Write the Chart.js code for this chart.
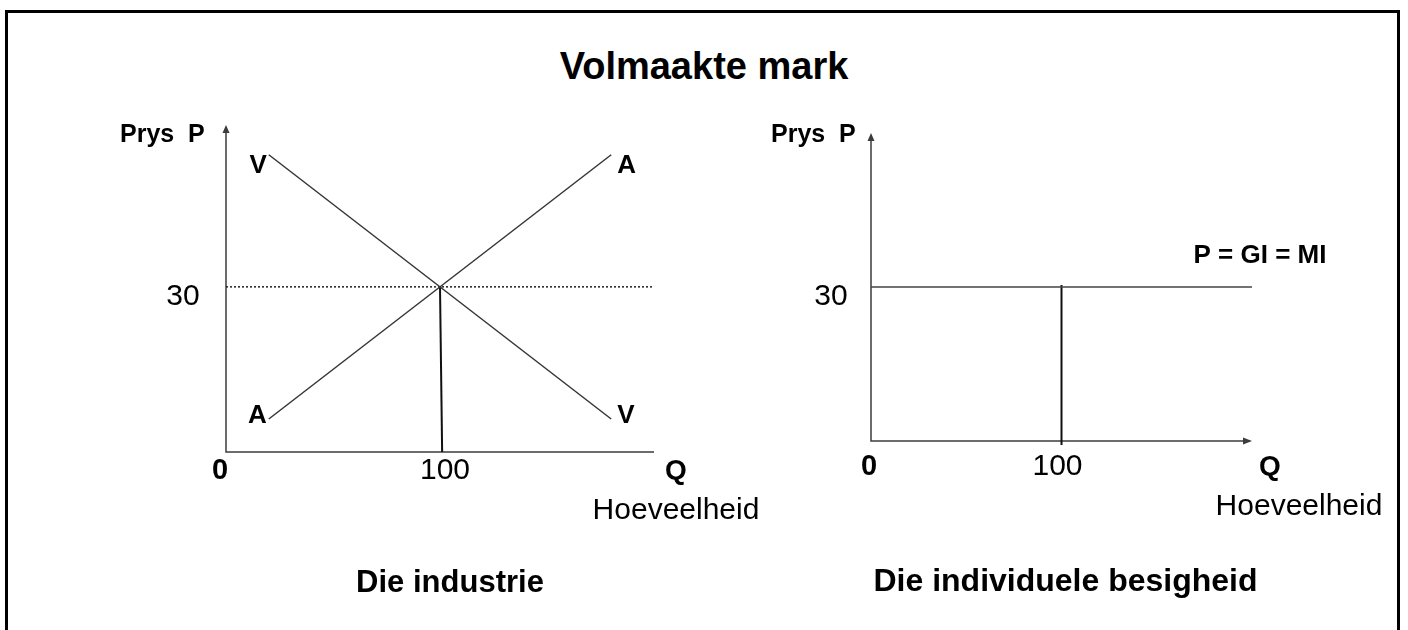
<!DOCTYPE html>
<html>
<head>
<meta charset="utf-8">
<title>Volmaakte mark</title>
<script src="https://cdn.jsdelivr.net/npm/chart.js@4.4.1/dist/chart.umd.min.js"></script>
<style>
  html, body { margin: 0; padding: 0; background: #fff; }
  #page { position: relative; width: 1408px; height: 630px; overflow: hidden; background: #fff;
          font-family: "Liberation Sans", Arial, sans-serif; }
  #frame { position: absolute; left: 5px; top: 10px; width: 1395px; height: 700px;
           border: 3px solid #000; box-sizing: border-box; }
  #title { position: absolute; left: 0; width: 1408px; top: 47px; text-align: center;
           font-size: 38px; font-weight: bold; line-height: 1; color: #000; }
  .box { position: absolute; top: 0; height: 630px; }
</style>
</head>
<body>
<div id="page">
  <div id="frame"></div>
  <div id="title">Volmaakte mark</div>
  <div class="box" style="left:0;width:800px"><canvas id="industry" width="800" height="630"></canvas></div>
  <div class="box" style="left:704px;width:704px"><canvas id="firm" width="704" height="630"></canvas></div>
</div>

<script>
// Die industrie: aanbod (A), vraag (V), ewewigsprys en -hoeveelheid
var supplyQ = [20, 180];
var supplyP = [6, 54];
var demandQ = [20, 180];
var demandP = [54, 6];
var priceLineQ = [0, 200];
var priceLineP = [30, 30];
var eqLineQ = [100, 101];
var eqLineP = [30, 0];

// Die individuele besigheid: P = GI = MI
var firmPriceQ = [0, 200];
var firmPriceP = [30, 30];
var firmLineQ = [100, 100];
var firmLineP = [30.4, -0.8];

// tick labels
var qTicks = [0, 100];
var pTicks = [30];

function pts(xs, ys) {
    return xs.map(function (x, i) { return { x: x, y: ys[i] }; });
}

function line(data, color, width, extra) {
    return Object.assign({
        data: data,
        showLine: true,
        borderColor: color,
        borderWidth: width,
        pointRadius: 0,
        fill: false,
        clip: false
    }, extra || {});
}

function arrowHead(ctx, x, y, dir) {
    ctx.beginPath();
    if (dir === 'up') {
        ctx.moveTo(x, y);
        ctx.lineTo(x - 3.5, y + 8);
        ctx.lineTo(x + 3.5, y + 8);
    } else {
        ctx.moveTo(x, y);
        ctx.lineTo(x - 9, y - 3.5);
        ctx.lineTo(x - 9, y + 3.5);
    }
    ctx.closePath();
    ctx.fill();
}

function put(ctx, str, font, align, x, y) {
    ctx.font = font;
    ctx.textAlign = align;
    ctx.textBaseline = 'alphabetic';
    ctx.fillText(str, x, y);
}

// draws the axes and every text of one diagram
var diagram = {
    id: 'diagram',
    beforeDatasetsDraw: function (chart, args, o) {
        var ctx = chart.ctx, a = chart.chartArea;
        ctx.save();
        ctx.strokeStyle = '#3c3c3c';
        ctx.fillStyle = '#3c3c3c';
        ctx.lineWidth = 1.5;
        ctx.beginPath();
        ctx.moveTo(a.left, a.top + 2);
        ctx.lineTo(a.left, a.bottom);
        ctx.lineTo(a.right - (o.xArrow ? 2 : 0), a.bottom);
        ctx.stroke();
        arrowHead(ctx, a.left, a.top, 'up');
        if (o.xArrow) arrowHead(ctx, a.right, a.bottom, 'right');
        ctx.restore();
    },
    afterDatasetsDraw: function (chart, args, o) {
        var ctx = chart.ctx, a = chart.chartArea;
        var x = chart.scales.x, y = chart.scales.y;
        var bold = function (s) { return 'bold ' + s + 'px "Liberation Sans", Arial, sans-serif'; };
        var reg = function (s) { return s + 'px "Liberation Sans", Arial, sans-serif'; };
        ctx.save();
        ctx.fillStyle = '#000';

        // tick labels along the axes
        qTicks.forEach(function (v) {
            if (v === 0) put(ctx, '0', bold(29), 'center', x.getPixelForValue(0) + o.zeroDx, a.bottom + o.tickDy);
            else put(ctx, String(v), reg(30), 'center', x.getPixelForValue(v) + o.qDx, a.bottom + o.tickDy);
        });
        pTicks.forEach(function (v) {
            put(ctx, String(v), reg(30), 'center', a.left + o.pDx, y.getPixelForValue(v) + 18);
        });

        put(ctx, 'Prys  P', bold(25), 'left', a.left + o.prysDx, a.top + o.prysDy);
        put(ctx, 'Q', bold(28), 'center', a.right + o.qLblDx, a.bottom + o.tickDy);
        put(ctx, 'Hoeveelheid', reg(30), 'center', a.right + o.hoevDx, a.bottom + o.tickDy + 40);
        put(ctx, o.caption, bold(o.captionSize), 'center', x.getPixelForValue(100) + o.captionDx, a.bottom + o.captionDy);

        // labels at the ends of the curves
        (o.endLabels || []).forEach(function (l) {
            var p = chart.getDatasetMeta(l.ds).data[l.pt];
            put(ctx, l.text, bold(26), l.align, p.x + l.dx, p.y + l.dy);
        });
        (o.lineLabels || []).forEach(function (l) {
            put(ctx, l.text, bold(26), 'center', a.right + l.dx, y.getPixelForValue(l.at) + l.dy);
        });
        ctx.restore();
    }
};

function baseOptions(padding, yMax, plug) {
    return {
        responsive: false,
        animation: false,
        devicePixelRatio: 1,
        layout: { padding: padding },
        plugins: { legend: { display: false }, tooltip: { enabled: false }, diagram: plug },
        scales: {
            x: { type: 'linear', min: 0, max: 200, display: false },
            y: { type: 'linear', min: 0, max: yMax, display: false }
        }
    };
}

new Chart(document.getElementById('industry'), {
    type: 'scatter',
    data: {
        datasets: [
            line(pts(supplyQ, supplyP), '#353535', 1.5),
            line(pts(demandQ, demandP), '#353535', 1.5),
            line(pts(priceLineQ, priceLineP), '#222', 1.5, { borderDash: [2, 2] }),
            line(pts(eqLineQ, eqLineP), '#111', 2)
        ]
    },
    options: baseOptions({ left: 226, right: 146, top: 125, bottom: 178 }, 59.4, {
        xArrow: false,
        zeroDx: -6, qDx: 5, tickDy: 27, pDx: -43,
        prysDx: -106, prysDy: 17, qLblDx: 22, hoevDx: 22,
        caption: 'Die industrie', captionSize: 31, captionDx: 10, captionDy: 140,
        endLabels: [
            { ds: 0, pt: 0, text: 'A', align: 'right', dx: -2, dy: 4 },
            { ds: 0, pt: 1, text: 'A', align: 'left', dx: 6, dy: 18 },
            { ds: 1, pt: 0, text: 'V', align: 'right', dx: -2, dy: 18 },
            { ds: 1, pt: 1, text: 'V', align: 'left', dx: 6, dy: 4 }
        ]
    }),
    plugins: [diagram]
});

new Chart(document.getElementById('firm'), {
    type: 'scatter',
    data: {
        datasets: [
            line(pts(firmPriceQ, firmPriceP), '#444', 1.5),
            line(pts(firmLineQ, firmLineP), '#111', 2)
        ]
    },
    options: baseOptions({ left: 167, right: 156, top: 133, bottom: 189 }, 60, {
        xArrow: true,
        zeroDx: -2, qDx: -4, tickDy: 34, pDx: -40,
        prysDx: -100, prysDy: 9, qLblDx: 18, hoevDx: 47,
        caption: 'Die individuele besigheid', captionSize: 32, captionDx: 4, captionDy: 150,
        lineLabels: [
            { text: 'P = GI = MI', at: 30, dx: 8, dy: -24 }
        ]
    }),
    plugins: [diagram]
});
</script>
</body>
</html>
